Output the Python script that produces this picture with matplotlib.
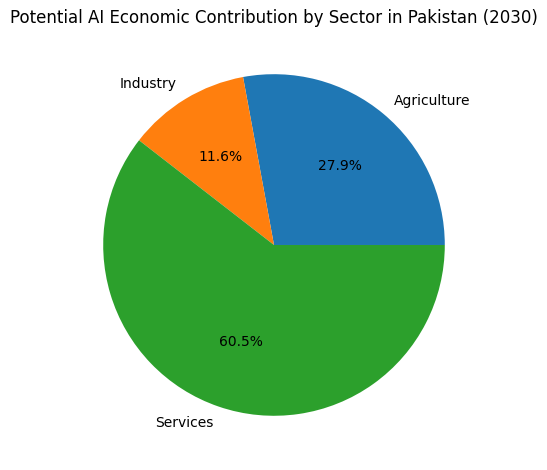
import matplotlib
matplotlib.use("Agg")
import matplotlib.pyplot as plt

labels = ["Agriculture", "Industry", "Services"]
values = [27.9, 11.6, 60.5]

fig = plt.figure(figsize=(5.47, 4.7), dpi=100)
ax = fig.add_axes([0.1106, 0.0245, 0.7806, 0.9085])
ax.pie(values, labels=labels, autopct="%1.1f%%")
ax.set_title("Potential AI Economic Contribution by Sector in Pakistan (2030)")
fig.savefig("out.png", dpi=100)
